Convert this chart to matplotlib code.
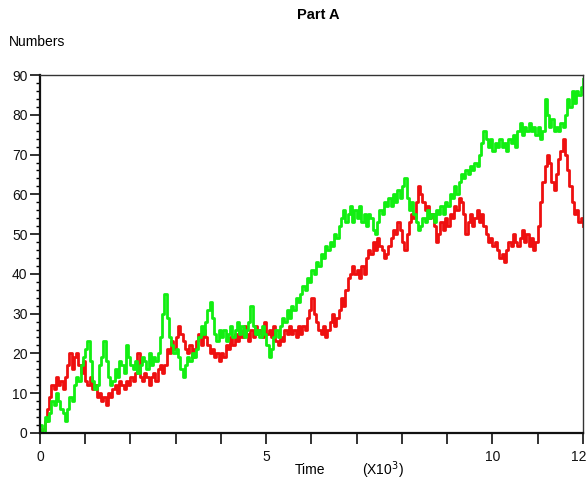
import numpy as np
import matplotlib
matplotlib.use("Agg")
import matplotlib.pyplot as plt
import matplotlib.transforms as mtransforms

plt.rcParams['font.family'] = ['Liberation Sans', 'DejaVu Sans']

# sample times (x10^3), one reading every 0.05
time_step = 0.05
t_end = 12

# red species, one row per time unit
red_counts = [
    0, 1, 3, 6, 9, 12, 11, 14, 12, 13, 11, 14, 17, 20, 16, 19, 20, 17, 15, 18,
    13, 12, 14, 11, 12, 9, 10, 8, 9, 7, 10, 9, 11, 12, 10, 13, 12, 11, 13, 12,
    14, 13, 15, 20, 14, 13, 15, 14, 12, 14, 15, 13, 16, 17, 15, 17, 21, 20, 23, 21,
    24, 27, 25, 23, 21, 20, 22, 19, 21, 23, 25, 22, 26, 24, 22, 20, 21, 19, 20, 18,
    20, 19, 22, 21, 24, 22, 25, 23, 26, 24, 27, 25, 23, 26, 24, 27, 25, 26, 24, 28,
    25, 26, 24, 27, 23, 22, 24, 23, 26, 25, 27, 25, 26, 24, 27, 25, 27, 26, 29, 31,
    34, 30, 28, 26, 25, 27, 24, 26, 28, 30, 27, 29, 31, 34, 32, 36, 39, 40, 42, 40,
    41, 39, 42, 40, 44, 46, 45, 48, 46, 49, 47, 46, 44, 45, 47, 49, 51, 50, 53, 51,
    48, 46, 50, 53, 55, 54, 58, 62, 60, 58, 56, 57, 54, 55, 52, 48, 50, 53, 51, 54,
    52, 55, 54, 57, 56, 59, 58, 55, 50, 53, 55, 52, 54, 56, 53, 55, 52, 50, 48, 49,
    47, 48, 46, 44, 45, 43, 46, 48, 47, 50, 48, 47, 49, 51, 48, 50, 47, 49, 46, 48,
    52, 58, 63, 67, 70, 68, 63, 61, 65, 69, 71, 74, 70, 66, 62, 58, 55, 56, 53, 54,
    52,
]

# green species
green_counts = [
    2, 0, 4, 3, 5, 8, 7, 10, 8, 6, 5, 3, 6, 9, 8, 12, 14, 13, 17, 19,
    21, 23, 18, 13, 11, 12, 17, 19, 23, 18, 14, 12, 13, 16, 14, 18, 17, 15, 22, 19,
    17, 16, 18, 15, 17, 19, 18, 16, 20, 17, 19, 18, 20, 24, 30, 35, 29, 24, 22, 20,
    21, 19, 16, 14, 17, 19, 18, 20, 19, 21, 24, 27, 25, 28, 31, 33, 29, 25, 23, 26,
    24, 26, 23, 25, 27, 24, 26, 28, 25, 27, 24, 26, 28, 32, 27, 25, 26, 24, 27, 25,
    22, 19, 21, 24, 26, 24, 27, 29, 28, 31, 29, 32, 31, 34, 33, 35, 37, 36, 39, 38,
    41, 40, 43, 42, 45, 44, 47, 46, 48, 47, 50, 49, 52, 54, 56, 53, 55, 57, 53, 56,
    54, 57, 53, 55, 52, 55, 54, 51, 50, 53, 56, 55, 58, 57, 59, 57, 60, 58, 61, 59,
    62, 64, 59, 56, 58, 55, 53, 51, 52, 54, 53, 56, 54, 55, 53, 56, 55, 57, 55, 58,
    57, 60, 59, 62, 60, 63, 65, 64, 66, 65, 67, 66, 68, 67, 70, 73, 76, 74, 72, 74,
    71, 73, 72, 74, 72, 73, 71, 74, 73, 75, 72, 76, 78, 75, 77, 76, 78, 76, 77, 75,
    77, 74, 76, 84, 80, 77, 79, 76, 77, 76, 78, 77, 80, 84, 82, 86, 83, 86, 85, 87,
    89,
]

major_ticks = [0, 5, 10, 12]
minor_ticks = [1, 2, 3, 4, 6, 7, 8, 9, 11]

t = np.arange(len(red_counts)) * time_step

fig = plt.figure(figsize=(5.88, 4.84), dpi=100)
ax = fig.add_axes([0.068, 0.1055, 0.9235, 0.7395])

ax.plot(t, red_counts, color='#ee1010', lw=2.0, drawstyle='steps-post')
ax.plot(t, green_counts, color='#12ee12', lw=2.0, drawstyle='steps-post')

ax.set_xlim(0, t_end)
ax.set_ylim(0, 90)

ax.set_xticks(major_ticks)
ax.set_xticks(minor_ticks, minor=True)
ax.set_yticks(range(0, 91, 10))
ax.set_yticks(range(0, 91, 2), minor=True)

ax.tick_params(axis='x', which='both', direction='out', length=8, width=1.2,
               labelsize=10, pad=4, colors='#111111')
ax.tick_params(axis='y', which='major', direction='out', length=7, width=1.2,
               labelsize=10, pad=2, colors='#111111')
ax.tick_params(axis='y', which='minor', direction='out', length=3, width=1.0)

# last x label sits at the figure edge; nudge it inward a little
last = ax.get_xticklabels()[-1]
last.set_transform(last.get_transform() +
                   mtransforms.ScaledTranslation(-4 / 100, 0, fig.dpi_scale_trans))

for side in ['left', 'bottom']:
    ax.spines[side].set_linewidth(1.6)
    ax.spines[side].set_color('#111111')
for side in ['top', 'right']:
    ax.spines[side].set_linewidth(1.0)
    ax.spines[side].set_color('#333333')

fig.text(318 / 588, 1 - 15 / 484, 'Part A', ha='center', va='center',
         fontsize=10.5, fontweight='bold')
fig.text(9 / 588, 1 - 42 / 484, 'Numbers', ha='left', va='center', fontsize=10)
fig.text(310 / 588, 1 - 470 / 484, 'Time', ha='center', va='center', fontsize=10)
fig.text(383 / 588, 1 - 470 / 484, r'(X10$^3$)', ha='center', va='center', fontsize=10)

fig.savefig('out.png', dpi=100)
